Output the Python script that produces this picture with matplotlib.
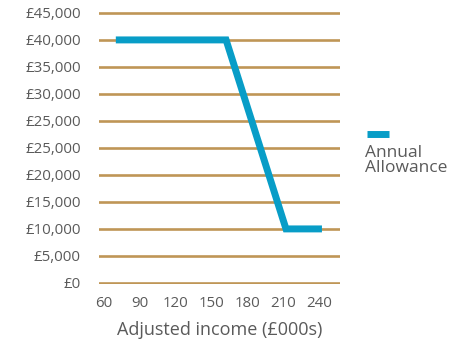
import numpy as np
import matplotlib
matplotlib.use("Agg")
import matplotlib.pyplot as plt
from matplotlib.lines import Line2D

plt.rcParams['font.family'] = ['Open Sans', 'DejaVu Sans']

# Annual allowance against adjusted income
serie_nombre = "Annual\nAllowance"
ingreso = [70, 162, 212, 242]          # £000s
allowance = [40000, 40000, 10000, 10000]

x_ticks = [60, 90, 120, 150, 180, 210, 240]
y_labels = ["£45,000", "£40,000", "£35,000", "£30,000", "£25,000", "£25,000",
            "£20,000", "£15,000", "£10,000", "£5,000", "£0"]

azul = "#089DC7"
dorado = "#BF9656"
gris = "#5A5A5A"

# las lineas de la rejilla estan igualmente espaciadas; £40,000 y £10,000 caen en su valor
paso = (40000 - 10000) / 7
y_pos = [40000 + paso - i * paso for i in range(len(y_labels))]

fig = plt.figure(figsize=(4.65, 3.42), dpi=100)
ax = fig.add_axes([0.213, 0.170, 0.518, 0.795])

for y in y_pos:
    ax.axhline(y, color=dorado, lw=1.9, zorder=1)

ax.plot(ingreso, allowance, color=azul, lw=5, solid_joinstyle='miter',
        solid_capstyle='butt', zorder=3)

ax.set_xlim(56, 257)
ax.set_ylim(y_pos[-1] - 150, y_pos[0] + 150)

ax.set_xticks(x_ticks)
ax.set_xticklabels([str(t) for t in x_ticks])
ax.set_yticks(y_pos)
ax.set_yticklabels(y_labels)
ax.tick_params(axis='both', length=0, labelsize=10.8, labelcolor=gris)
ax.tick_params(axis='y', pad=13)
ax.tick_params(axis='x', pad=9)
for s in ax.spines.values():
    s.set_visible(False)

ax.set_xlabel("Adjusted income (£000s)", fontsize=13, color=gris, labelpad=7)

# leyenda: muestra de color arriba y texto debajo
fig.add_artist(Line2D([367 / 465, 389 / 465], [1 - 134 / 342] * 2,
                      color=azul, lw=5, solid_capstyle='butt'))
fig.text(365 / 465, 1 - 145 / 342, serie_nombre, fontsize=12.5, color=gris,
         ha='left', va='top', linespacing=0.95)

fig.savefig("out.png", dpi=100)
